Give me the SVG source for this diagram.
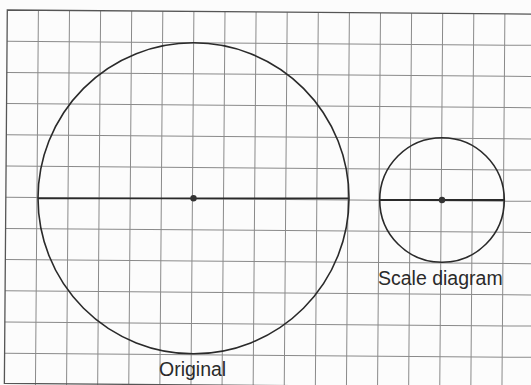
<svg xmlns="http://www.w3.org/2000/svg" width="531" height="385" viewBox="0 0 531 385">
<style>
.grid{stroke:#8a8a8a;stroke-width:1;fill:none}
.edge{stroke:#555;stroke-width:1.3;fill:none}
.shape{stroke:#2a2a2a;stroke-width:1.6;fill:none}
.dia{stroke:#2a2a2a;stroke-width:1.8}
.dot{fill:#333}
.lbl{font-family:"Liberation Sans",Arial,sans-serif;font-size:19.5px;fill:#2a2a2a}
</style>
<rect width="531" height="385" fill="#fcfcfc"/>
<g id="grid" transform="rotate(0.45 7.3 10)">
<path class="grid" d="M38.4 10V390M69.5 10V390M100.6 10V390M131.7 10V390M162.8 10V390M193.9 10V390M225 10V390M256.1 10V390M287.2 10V390M318.3 10V390M349.4 10V390M380.5 10V390M411.6 10V390M442.7 10V390M473.8 10V390M504.9 10V390"/>
<path class="grid" d="M7.3 41.2H540M7.3 72.4H540M7.3 103.6H540M7.3 134.8H540M7.3 166H540M7.3 197.2H540M7.3 228.4H540M7.3 259.6H540M7.3 290.8H540M7.3 322H540M7.3 353.2H540"/>
<path class="edge" d="M540 10H7.3V383.4H540"/>
</g>
<g id="original">
<circle class="shape" cx="193.5" cy="198.3" r="155.5"/>
<line class="dia" x1="38" y1="198.3" x2="349" y2="198.3"/>
<circle class="dot" cx="193.5" cy="198.3" r="3.2"/>
<text class="lbl" x="159" y="376">Original</text>
</g>
<g id="scale">
<circle class="shape" cx="442" cy="200" r="62.3"/>
<line class="dia" x1="379.7" y1="200" x2="504.3" y2="200"/>
<circle class="dot" cx="442" cy="200" r="3.2"/>
<text class="lbl" x="378" y="285">Scale diagram</text>
</g>
</svg>
